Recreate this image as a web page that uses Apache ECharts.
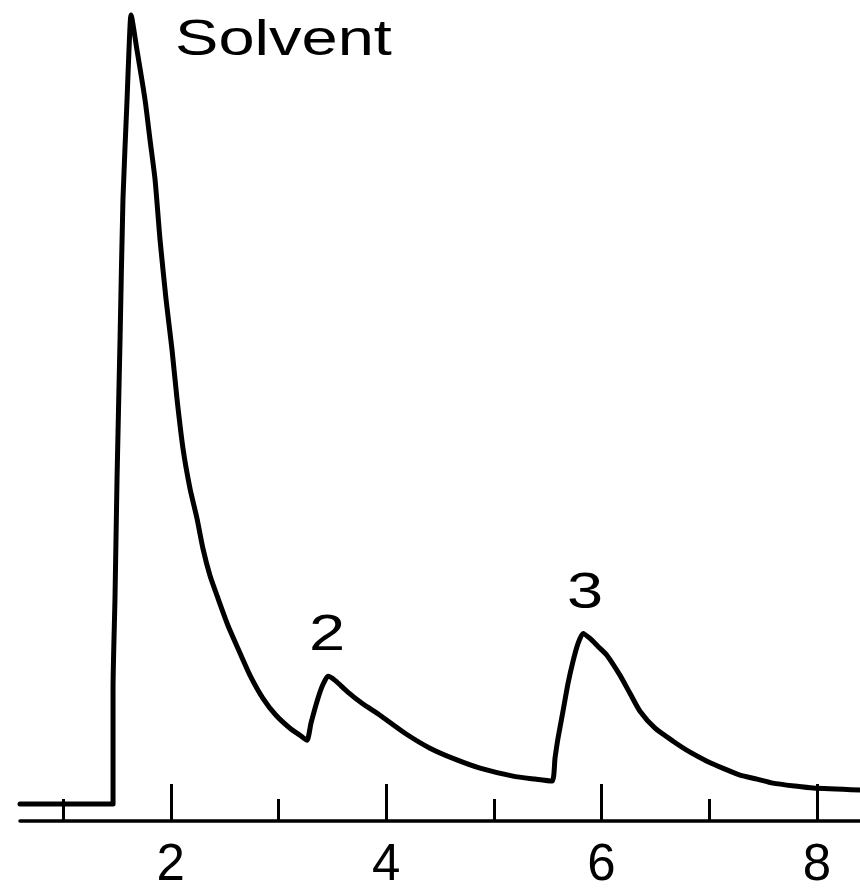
<!DOCTYPE html>
<html>
<head>
<meta charset="utf-8">
<script src="https://cdn.jsdelivr.net/npm/echarts@6/dist/echarts.min.js"></script>
<style>
html,body{margin:0;padding:0;background:#fff;}
#chart{width:860px;height:891px;}
</style>
</head>
<body>
<div id="chart"></div>
<script>
// Retention time (min) and detector response (arbitrary units)
const retentionTime = [
  0.600, 1.464, 1.464, 1.482, 1.501, 1.529, 1.556, 1.594, 1.612, 1.631,
  1.686, 1.761, 1.807, 1.854, 1.900, 1.956, 2.011, 2.058, 2.114, 2.179,
  2.244, 2.299, 2.364, 2.439, 2.531, 2.624, 2.736, 2.856, 2.977, 3.107,
  3.200, 3.265, 3.302, 3.367, 3.414, 3.460, 3.525, 3.636, 3.776, 3.943,
  4.175, 4.407, 4.639, 4.872, 5.178, 5.382, 5.540, 5.568, 5.596, 5.642,
  5.689, 5.735, 5.782, 5.828, 5.893, 5.967, 6.051, 6.172, 6.264, 6.357,
  6.497, 6.664, 6.822, 6.979, 7.147, 7.286, 7.444, 7.592, 7.797, 7.964,
  8.400
];
const response = [
  1.7, 1.7, 13.3, 22.3, 34.3, 48.3, 62.3, 72.3, 77.3, 80.8,
  77.3, 72.3, 68.3, 64.3, 58.3, 52.3, 47.3, 42.3, 37.3, 33.3,
  30.3, 27.3, 24.6, 22.3, 19.6, 17.3, 14.6, 12.3, 10.6, 9.3,
  8.6, 8.1, 9.8, 12.3, 13.7, 14.5, 14.1, 13.0, 11.8, 10.6,
  8.8, 7.3, 6.2, 5.3, 4.5, 4.2, 4.0, 6.3, 8.3, 11.0,
  13.8, 16.0, 17.8, 18.8, 18.3, 17.5, 16.6, 14.6, 12.8, 11.0,
  9.3, 8.0, 6.9, 6.0, 5.2, 4.6, 4.2, 3.8, 3.5, 3.3,
  3.1
];
const majorTicks = [2, 4, 6, 8];
const minorTicks = [1, 3, 5, 7];
const peakNames = ['Solvent', '2', '3'];
const peakTimes = [1.631, 3.460, 5.828];

const FONT = '"Liberation Sans", Arial, Helvetica, sans-serif';
const chart = echarts.init(document.getElementById('chart'));
const seriesData = retentionTime.map((t, i) => [t, response[i]]);

const option = {
  backgroundColor: '#fff',
  animation: false,
  grid: { left: 20, right: 0, top: 0, bottom: 68 },
  xAxis: [
    {
      type: 'value', min: 0.6, max: 8.4, position: 'bottom',
      splitLine: { show: false },
      axisLine: { show: true, onZero: false, lineStyle: { color: '#000', width: 3.5 } },
      axisTick: { show: true, inside: true, length: 37, customValues: majorTicks,
                  lineStyle: { color: '#000', width: 3 } },
      axisLabel: { show: true, customValues: majorTicks, margin: 19,
                   color: '#000', fontFamily: FONT, fontSize: 51 }
    },
    {
      type: 'value', min: 0.6, max: 8.4, position: 'bottom', gridIndex: 0,
      splitLine: { show: false },
      axisLine: { show: false, onZero: false },
      axisTick: { show: true, inside: true, length: 22, customValues: minorTicks,
                  lineStyle: { color: '#000', width: 3 } },
      axisLabel: { show: false }
    }
  ],
  yAxis: { type: 'value', min: 0, max: 82.3, show: false },
  series: [{
    type: 'line',
    data: seriesData,
    symbol: 'none',
    smooth: 0.2,
    lineStyle: { color: '#000', width: 5, join: 'round', cap: 'round' },
    z: 3
  }]
};
chart.setOption(option);

// Peak annotations, anchored on the peak apex through the chart's own scales
const offsets = [
  { dx: 44, dy: 26, align: 'left' },
  { dx: -1, dy: -40, align: 'center' },
  { dx: 2, dy: -39, align: 'center' }
];
const graphics = peakNames.map((name, k) => {
  const idx = retentionTime.indexOf(peakTimes[k]);
  const p = chart.convertToPixel({ gridIndex: 0 }, [retentionTime[idx], response[idx]]);
  const o = offsets[k];
  return {
    type: 'text',
    x: p[0] + o.dx,
    y: p[1] + o.dy,
    scaleX: 1.3,
    style: {
      text: name,
      fill: '#000',
      font: '50px ' + FONT,
      textAlign: o.align,
      textVerticalAlign: 'middle'
    },
    z: 10
  };
});
chart.setOption({ graphic: graphics });
</script>
</body>
</html>
